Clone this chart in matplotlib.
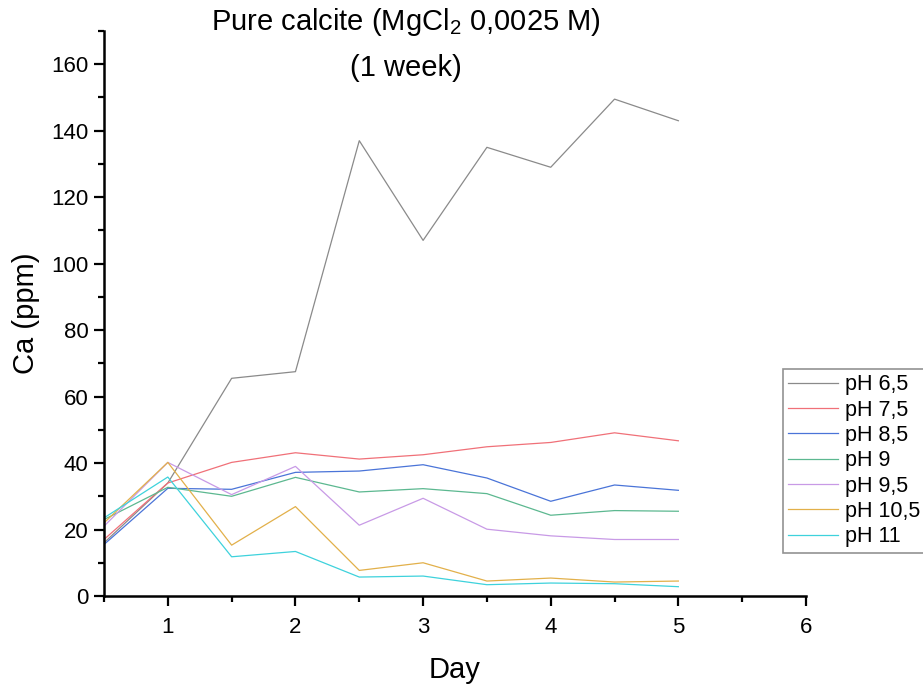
import matplotlib
matplotlib.use("Agg")
import matplotlib.pyplot as plt
from matplotlib.ticker import MultipleLocator

plt.rcParams['font.family'] = ['Liberation Sans', 'DejaVu Sans']
plt.rcParams['mathtext.fontset'] = 'custom'
plt.rcParams['mathtext.rm'] = 'Liberation Sans'

days = [0.5, 1, 1.5, 2, 2.5, 3, 3.5, 4, 4.5, 5]
labels = ["pH 6,5", "pH 7,5", "pH 8,5", "pH 9", "pH 9,5", "pH 10,5", "pH 11"]
ph65 = [16, 34, 65.5, 67.5, 137, 107, 135, 129, 149.5, 143]
ph75 = [17, 34, 40.2, 43.1, 41.2, 42.5, 44.9, 46.2, 49.1, 46.7]
ph85 = [15.5, 32.4, 32.1, 37.2, 37.6, 39.5, 35.5, 28.5, 33.4, 31.8]
ph9 = [23, 32.7, 30, 35.7, 31.3, 32.3, 30.8, 24.3, 25.7, 25.5]
ph95 = [21, 40.2, 30.5, 39, 21.3, 29.4, 20.1, 18.1, 17, 17]
ph105 = [22, 40.2, 15.3, 26.9, 7.7, 10, 4.5, 5.4, 4.2, 4.5]
ph11 = [23.5, 35.8, 11.8, 13.4, 5.7, 6.0, 3.4, 3.9, 3.7, 2.8]
series = [ph65, ph75, ph85, ph9, ph95, ph105, ph11]
colors = ['#8a8a8a', '#f07078', '#4a74d8', '#5cb890', '#c89ae6', '#e2b04a', '#3ed2dc']

fig = plt.figure(figsize=(9.23, 6.88), dpi=100)
ax = fig.add_axes([104/923, 1-596/688, (806-104)/923, (596-31)/688])

for vals, lab, c in zip(series, labels, colors):
    ax.plot(days, vals, color=c, lw=0.9, label=lab)

ax.set_xlim(0.5, 6)
ax.set_ylim(0, 170)
ax.xaxis.set_major_locator(MultipleLocator(1))
ax.xaxis.set_minor_locator(MultipleLocator(0.5))
ax.yaxis.set_major_locator(MultipleLocator(20))
ax.yaxis.set_minor_locator(MultipleLocator(10))
for s in ['top', 'right']:
    ax.spines[s].set_visible(False)
for s in ['left', 'bottom']:
    ax.spines[s].set_linewidth(1.8)
ax.tick_params(which='major', direction='out', length=7, width=1.6, labelsize=16)
ax.tick_params(which='minor', direction='out', length=4, width=1.6)
ax.tick_params(axis='x', pad=8)
ax.tick_params(axis='y', pad=4)

ax.set_xlabel("Day", fontsize=21, labelpad=13)
ax.set_ylabel("Ca (ppm)", fontsize=21, labelpad=8)

fig.text(406/923, 1-22/688, "Pure calcite (MgCl$_2$ 0,0025 M)",
         ha='center', va='center', fontsize=21)
fig.text(406/923, 1-68/688, "(1 week)",
         ha='center', va='center', fontsize=21)

leg = fig.legend(loc='upper left', bbox_to_anchor=(783/923, 1-369/688),
                 fontsize=15.5, handlelength=2.3, labelspacing=0.2,
                 fancybox=False, frameon=True, borderpad=0.25,
                 handletextpad=0.35, borderaxespad=0)
leg.get_frame().set_edgecolor('#777777')
leg.get_frame().set_linewidth(1.2)

fig.savefig("out.png", dpi=100)
